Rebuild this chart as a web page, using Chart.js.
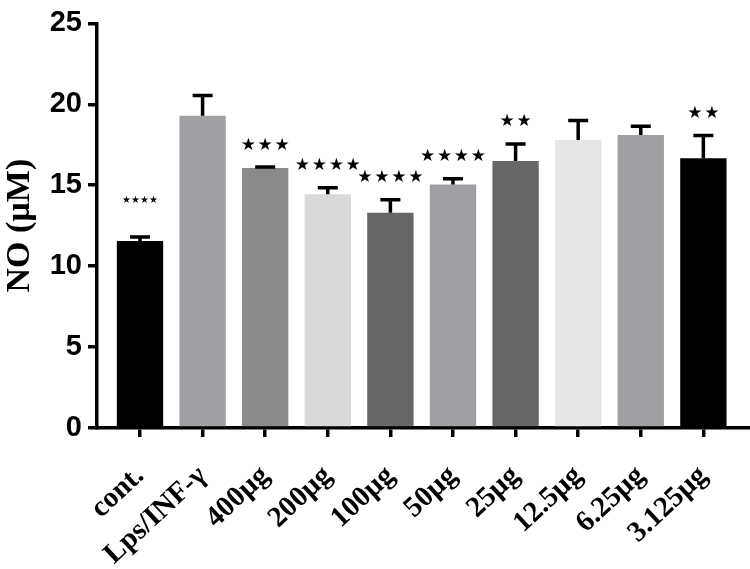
<!DOCTYPE html>
<html>
<head>
<meta charset="utf-8">
<script src="https://cdn.jsdelivr.net/npm/chart.js@4.4.1/dist/chart.umd.min.js"></script>
<style>
  html, body { margin: 0; padding: 0; background: #fff; }
  #wrap { width: 750px; height: 569px; }
</style>
</head>
<body>
<div id="wrap"><canvas id="graph" width="750" height="569"></canvas></div>
<script>
const groups = ['cont.', 'Lps/INF-\u03b3', '400\u00b5g', '200\u00b5g', '100\u00b5g', '50\u00b5g', '25\u00b5g', '12.5\u00b5g', '6.25\u00b5g', '3.125\u00b5g'];
const means = [11.55, 19.3, 16.07, 14.44, 13.3, 15.05, 16.5, 17.8, 18.1, 16.67];
const errors = [0.25, 1.25, 0.05, 0.4, 0.8, 0.35, 1.05, 1.2, 0.55, 1.4];
const stars = ['****', '', '***', '****', '****', '****', '**', '', '', '**'];
const barColors = ['#000000', '#a0a0a4', '#8a8a8a', '#d9d9d9', '#666666', '#a0a0a4', '#666666', '#e6e6e6', '#a0a0a4', '#000000'];
const yTicks = [0, 5, 10, 15, 20, 25];

// error bars (upper only) + significance stars
const errorBars = {
    id: 'errorBars',
    afterDatasetsDraw(chart) {
        const ctx = chart.ctx;
        const xs = chart.scales.x, ys = chart.scales.y;
        ctx.save();
        ctx.strokeStyle = '#000';
        ctx.lineWidth = 3.5;
        means.forEach((m, i) => {
            const x = xs.getPixelForValue(i);
            const yb = ys.getPixelForValue(m);
            const yt = ys.getPixelForValue(m + errors[i]);
            ctx.beginPath();
            ctx.moveTo(x, yb);
            ctx.lineTo(x, yt);
            ctx.moveTo(x - 10, yt);
            ctx.lineTo(x + 10, yt);
            ctx.stroke();
            if (stars[i]) {
                const small = i === 0;
                ctx.fillStyle = '#000';
                ctx.font = (small ? '10px' : '17px') + ' "DejaVu Sans"';
                ctx.textAlign = 'center';
                ctx.textBaseline = 'middle';
                const s = stars[i].replace(/\*/g, '\u2605').split('').join(small ? '' : '\u200a');
                ctx.fillText(s, x, yt - (small ? 37 : 22));
            }
        });
        ctx.restore();
    }
};

new Chart(document.getElementById('graph'), {
    type: 'bar',
    data: {
        datasets: [{
            data: means.map((v, i) => ({ x: i, y: v })),
            backgroundColor: barColors,
            borderWidth: 0,
            categoryPercentage: 1,
            barPercentage: 0.74
        }]
    },
    options: {
        responsive: false,
        animation: false,
        layout: { padding: { top: 15, right: 0, left: 0, bottom: 0 } },
        plugins: { legend: { display: false }, tooltip: { enabled: false } },
        scales: {
            x: {
                type: 'linear',
                offset: false,
                min: -0.687,
                max: 9.745,
                afterBuildTicks: s => { s.ticks = groups.map((g, i) => ({ value: i })); },
                afterFit: s => { s.height = 141; },
                border: { color: '#000', width: 3.5 },
                grid: { offset: false, drawOnChartArea: false, drawTicks: true, tickLength: 9, color: '#000', lineWidth: 3.5 },
                ticks: {
                    callback: v => groups[v],
                    minRotation: 43,
                    maxRotation: 43,
                    autoSkip: false,
                    padding: 22,
                    color: '#000',
                    font: { family: '"Liberation Serif"', size: 29, weight: 'bold' }
                }
            },
            y: {
                min: 0,
                max: 25,
                afterBuildTicks: s => { s.ticks = yTicks.map(v => ({ value: v })); },
                afterFit: s => { s.width = 97; },
                border: { color: '#000', width: 3.5 },
                grid: { drawOnChartArea: false, drawTicks: true, tickLength: 9, color: '#000', lineWidth: 3.5 },
                ticks: {
                    padding: 6,
                    color: '#000',
                    font: { family: '"Liberation Sans"', size: 29, weight: 'bold' }
                },
                title: {
                    display: true,
                    text: 'NO (\u00b5M)',
                    color: '#000',
                    padding: { top: 0, bottom: 3 },
                    font: { family: '"Liberation Serif"', size: 34, weight: 'bold' }
                }
            }
        }
    },
    plugins: [errorBars]
});
</script>
</body>
</html>
